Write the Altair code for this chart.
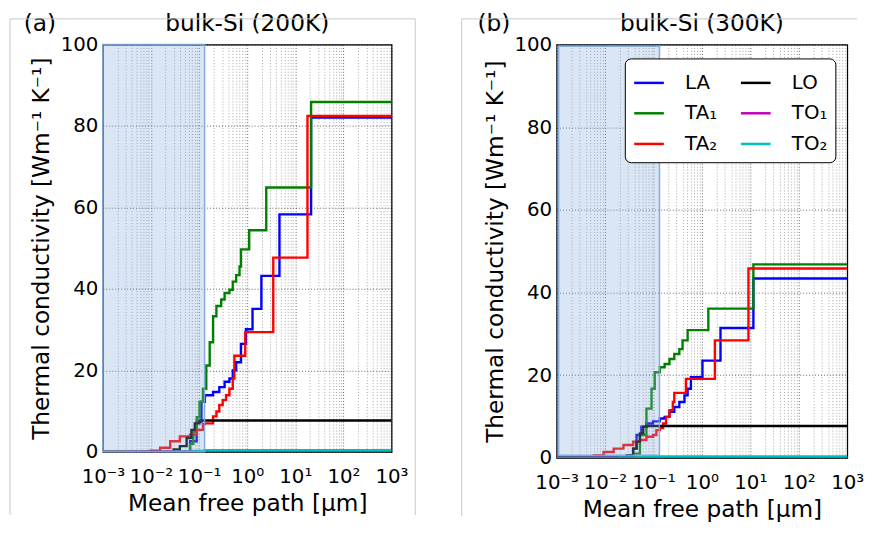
import altair as alt
import pandas as pd

FONT = "DejaVu Sans"

# legend order (column-major, 2 columns) and colours
MODES = ["LA", "TA₁", "TA₂", "LO", "TO₁", "TO₂"]
COLORS = ["#0000ff", "#008000", "#ff0000", "#000000", "#bf00bf", "#00bfbf"]

# x tick labels
X_TICK_VALUES = [0.001, 0.01, 0.1, 1, 10, 100, 1000]
X_TICK_LABELS = ["10⁻³", "10⁻²", "10⁻¹", "10⁰", "10¹", "10²", "10³"]
Y_TICK_VALUES = [0, 20, 40, 60, 80, 100]

# ---------- panel (a): bulk-Si 200 K ----------
A_LA_X = [0.001, 0.044, 0.065, 0.089, 0.112, 0.132, 0.195, 0.263, 0.339, 0.427, 0.501, 0.589, 0.741, 0.94, 1.29, 1.97, 4.68, 21.3, 1000]
A_LA_Y = [0, 0, 2.6, 7.4, 12.3, 13.9, 14.7, 15.9, 17.2, 18.0, 20.0, 22.0, 26.5, 30.1, 35.1, 43.2, 58.3, 82.1, 82.1]
A_TA1_X = [0.001, 0.0562, 0.0646, 0.0759, 0.0891, 0.102, 0.120, 0.141, 0.166, 0.195, 0.229, 0.288, 0.339, 0.427, 0.501, 0.589, 0.692, 0.741, 1.10, 2.49, 21.3, 1000]
A_TA1_Y = [0, 0, 2.0, 5.0, 8.5, 12.3, 15.5, 21.2, 26.9, 33.3, 35.8, 37.4, 39.0, 39.8, 41.8, 43.4, 45.5, 49.7, 54.4, 64.9, 85.9, 85.9]
A_TA2_X = [0.001, 0.0079, 0.0098, 0.0155, 0.0251, 0.0398, 0.0646, 0.0891, 0.120, 0.132, 0.195, 0.229, 0.263, 0.309, 0.363, 0.427, 0.501, 0.541, 0.91, 3.48, 17.9, 1000]
A_TA2_Y = [0, 0, 0.3, 1.0, 2.6, 3.8, 4.2, 5.4, 6.8, 7.0, 8.7, 9.9, 11.5, 12.7, 13.9, 15.5, 18.0, 23.6, 29.4, 47.7, 82.5, 82.5]
A_LO_X = [0.001, 0.0155, 0.0295, 0.0398, 0.055, 0.0692, 0.0813, 0.102, 1000]
A_LO_Y = [0, 0, 0.6, 1.4, 3.4, 5.4, 7.0, 7.7, 7.7]
A_TO1_X = [0.001, 0.004, 0.05, 1000]
A_TO1_Y = [0, 0.05, 0.1, 0.1]
A_TO2_X = [0.001, 0.03, 0.08, 0.13, 1000]
A_TO2_Y = [0, 0.05, 0.2, 0.4, 0.4]
A_SHADE = {"x0": 0.001, "x1": 0.13, "y0": 0, "y1": 100}

# ---------- panel (b): bulk-Si 300 K ----------
B_LA_X = [0.001, 0.0302, 0.038, 0.0447, 0.0562, 0.0708, 0.0977, 0.135, 0.170, 0.214, 0.269, 0.342, 0.437, 0.507, 0.593, 1.026, 2.42, 11.56, 1000]
B_LA_Y = [0, 0, 2.2, 5.5, 7.5, 8.3, 8.8, 9.5, 9.9, 11.1, 12.3, 13.5, 15.1, 16.7, 19.5, 23.5, 31.4, 43.4, 43.4]
B_TA1_X = [0.001, 0.0355, 0.0384, 0.0525, 0.0716, 0.0912, 0.106, 0.135, 0.170, 0.214, 0.269, 0.342, 0.398, 0.507, 1.358, 11.56, 1000]
B_TA1_Y = [0, 0, 1.0, 5.5, 11.9, 16.7, 20.7, 21.9, 22.7, 23.9, 25.1, 26.3, 28.4, 30.9, 36.1, 46.8, 46.8]
B_TA2_X = [0.001, 0.00282, 0.00316, 0.00589, 0.00933, 0.0151, 0.024, 0.038, 0.0525, 0.0716, 0.0977, 0.115, 0.135, 0.158, 0.182, 0.214, 0.251, 0.269, 0.468, 1.853, 9.14, 1000]
B_TA2_Y = [0, 0, 0.2, 0.6, 1.4, 2.2, 3.1, 3.9, 4.3, 5.1, 5.5, 6.7, 7.2, 8.3, 9.9, 11.5, 13.5, 15.7, 19.1, 28.4, 45.8, 45.8]
B_LO_X = [0.001, 0.0174, 0.0282, 0.038, 0.0447, 0.0525, 0.0617, 0.0716, 1000]
B_LO_Y = [0, 0, 0.6, 2.2, 3.9, 5.9, 7.5, 7.7, 7.7]
B_TO1_X = [0.001, 0.003, 1000]
B_TO1_Y = [0, 0.1, 0.1]
B_TO2_X = [0.001, 0.02, 0.06, 1000]
B_TO2_Y = [0, 0.1, 0.3, 0.4]
B_SHADE = {"x0": 0.0011, "x1": 0.133, "y0": 0.6, "y1": 99.6}


def frame(series):
    rows = []
    for mode, xs, ys in series:
        for i, (x, y) in enumerate(zip(xs, ys)):
            rows.append({"mode": mode, "mfp": x, "kappa": y, "idx": i})
    return pd.DataFrame(rows)


A_DF = frame([("LA", A_LA_X, A_LA_Y), ("TA₁", A_TA1_X, A_TA1_Y), ("TA₂", A_TA2_X, A_TA2_Y),
              ("LO", A_LO_X, A_LO_Y), ("TO₁", A_TO1_X, A_TO1_Y), ("TO₂", A_TO2_X, A_TO2_Y)])
B_DF = frame([("LA", B_LA_X, B_LA_Y), ("TA₁", B_TA1_X, B_TA1_Y), ("TA₂", B_TA2_X, B_TA2_Y),
              ("LO", B_LO_X, B_LO_Y), ("TO₁", B_TO1_X, B_TO1_Y), ("TO₂", B_TO2_X, B_TO2_Y)])

# grid positions: decades plus minor 2..9 ticks
GRID_X = []
for d in X_TICK_VALUES[:-1]:
    GRID_X += [d * k for k in range(1, 10)]
GRID_X.append(X_TICK_VALUES[-1])

label_expr = "''"
for v, lab in reversed(list(zip(X_TICK_VALUES, X_TICK_LABELS))):
    label_expr = f"(abs(datum.value - {v}) < {v}*1e-6) ? '{lab}' : ({label_expr})"
major_test = " || ".join(f"abs(datum.value - {v}) < {v}*1e-6" for v in X_TICK_VALUES)

X_AXIS = alt.Axis(values=GRID_X, labelExpr=label_expr, labelOverlap=False, labelFlush=False,
                  labelPadding=15, titlePadding=5, title="Mean free path [μm]",
                  grid=True, gridDash=[1, 2], gridColor="#000000",
                  gridOpacity={"condition": {"test": major_test, "value": 0.6}, "value": 0.35})
Y_AXIS = alt.Axis(values=Y_TICK_VALUES, labelPadding=5, titlePadding=7,
                  title="Thermal conductivity [Wm⁻¹ K⁻¹]",
                  grid=True, gridDash=[1, 2], gridColor="#000000", gridOpacity=0.6)
X_SCALE = alt.Scale(type="log", domain=[0.001, 1000], nice=False)
Y_SCALE = alt.Scale(domain=[0, 100], nice=False)

ONE = pd.DataFrame({"k": [0]})
FRAME_GREY = "#c8c8c8"


def panel(df, shade, title, tag, w, h, legend, frame_rules):
    lines = alt.Chart(df).mark_line(interpolate="step-after", strokeWidth=2.4, clip=True).encode(
        x=alt.X("mfp:Q", scale=X_SCALE, axis=X_AXIS),
        y=alt.Y("kappa:Q", scale=Y_SCALE, axis=Y_AXIS),
        color=alt.Color("mode:N", scale=alt.Scale(domain=MODES, range=COLORS), legend=legend),
        order="idx:Q",
    )
    sh = alt.Chart(pd.DataFrame([shade])).mark_rect(
        fill="#84acda", fillOpacity=0.3, stroke="#7aa6d8", strokeWidth=1.5, strokeOpacity=0.9
    ).encode(
        x=alt.X("x0:Q", scale=X_SCALE, axis=X_AXIS), x2="x1:Q",
        y=alt.Y("y0:Q", scale=Y_SCALE, axis=Y_AXIS), y2="y1:Q",
    )
    ttl = alt.Chart(pd.DataFrame({"t": [title]})).mark_text(
        font=FONT, fontSize=23.5, align="center", baseline="alphabetic", color="black"
    ).encode(text="t:N", x=alt.value(w / 2), y=alt.value(-14))
    tg = alt.Chart(pd.DataFrame({"t": [tag]})).mark_text(
        font=FONT, fontSize=23.5, align="left", baseline="alphabetic", color="black"
    ).encode(text="t:N", x=alt.value(-80), y=alt.value(-14))
    layers = [lines, sh, ttl, tg]
    for r in frame_rules:
        enc = {k: alt.value(v) for k, v in r.items()}
        layers.append(alt.Chart(ONE).mark_rule(color=FRAME_GREY, strokeWidth=1).encode(**enc))
    return alt.layer(*layers).properties(width=w, height=h)


LEGEND = alt.Legend(title=None, orient="none", legendX=69, legendY=14, columns=2,
                    symbolType="stroke", symbolSize=900, symbolStrokeWidth=2.5,
                    labelFont=FONT, labelFontSize=20, labelColor="black", labelOffset=20,
                    rowPadding=4, columnPadding=18, padding=8,
                    fillColor="white", strokeColor="black", cornerRadius=6)

pa = panel(A_DF, A_SHADE, "bulk-Si (200K)", "(a)", 292, 412, None,
           [dict(x=-94, x2=316, y=-26), dict(x=-94, y=-26, y2=476), dict(x=316, y=-26, y2=476)])
pb = panel(B_DF, B_SHADE, "bulk-Si (300K)", "(b)", 294, 418, LEGEND,
           [dict(x=-96, x2=304, y=-26), dict(x=-96, y=-26, y2=477)])

chart = alt.hconcat(pa, pb, spacing=43).resolve_scale(color="independent").properties(
    padding={"left": 0, "top": 0, "right": 0, "bottom": 0}, background="white"
).configure_view(stroke="black", strokeWidth=1.2).configure_axis(
    labelFont=FONT, labelFontSize=20, labelColor="black",
    titleFont=FONT, titleFontSize=23.5, titleFontWeight="normal", titleColor="black",
    domain=False, ticks=False,
)

chart.save("out.html", embed_options={"renderer": "svg", "actions": False})
